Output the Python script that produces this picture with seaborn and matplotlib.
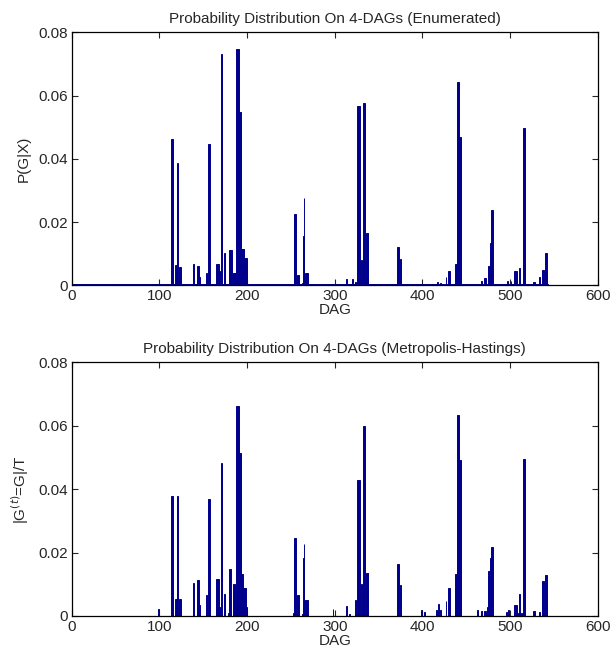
import numpy as np
import pandas as pd
import seaborn as sns
import matplotlib.pyplot as plt

# DAG index (1..543) -> probability.
# Groups of adjacent indices share a value (Markov-equivalent DAGs).
n_dags = 543

# tiny mass that every DAG gets in the enumerated distribution
enum_floor = 0.0003

enum_dag = [114, 115, 118, 119, 120, 121, 123, 124, 139, 144, 145, 146, 154,
            156, 157, 165, 166, 167, 169, 171, 174, 180, 181, 182,
            184, 185, 186, 187, 188, 189, 190, 191, 192, 193, 194, 195, 196,
            197, 198, 199, 200,
            254, 255, 258, 259, 263, 264, 265, 267, 268, 269, 313, 320, 324,
            326, 327, 328, 331, 332, 333, 334, 336, 337, 338, 372, 373, 375,
            417, 421, 427, 430, 431, 438, 439, 440, 441, 442, 443, 463,
            467, 468, 471, 472, 475, 476, 477, 478, 479, 480, 497, 501,
            505, 506, 507, 511, 515, 516, 527, 528, 533, 534, 537, 538,
            540, 541, 542]
enum_p = [0.0463, 0.0463, 0.0064, 0.0064, 0.0064, 0.0387, 0.0057, 0.0057,
          0.0067, 0.0060, 0.0060, 0.0025, 0.0038,
          0.0448, 0.0448, 0.0067, 0.0067, 0.0067, 0.0046, 0.0730, 0.0102,
          0.0110, 0.0110, 0.0110,
          0.0038, 0.0038, 0.0038, 0.0038, 0.0747, 0.0747, 0.0747, 0.0548,
          0.0548, 0.0548, 0.0116, 0.0116, 0.0116,
          0.0085, 0.0085, 0.0085, 0.0030,
          0.0225, 0.0225, 0.0033, 0.0033, 0.0008, 0.0156, 0.0275, 0.0040,
          0.0040, 0.0040, 0.0019, 0.0019, 0.0010,
          0.0566, 0.0566, 0.0566, 0.0080, 0.0010, 0.0577, 0.0577, 0.0164,
          0.0164, 0.0164, 0.0121, 0.0121, 0.0083,
          0.0010, 0.0008, 0.0025, 0.0045, 0.0045, 0.0067, 0.0067, 0.0644,
          0.0644, 0.0470, 0.0470, 0.0005,
          0.0015, 0.0015, 0.0023, 0.0023, 0.0061, 0.0061, 0.0061, 0.0133,
          0.0237, 0.0237, 0.0015, 0.0015,
          0.0045, 0.0045, 0.0045, 0.0054, 0.0498, 0.0498, 0.0010, 0.0010,
          0.0025, 0.0025, 0.0048, 0.0048,
          0.0101, 0.0101, 0.0101]

mh_dag = [99, 114, 115, 118, 119, 120, 121, 123, 124, 139, 143, 144, 145,
          146, 154, 156, 157, 165, 166, 167, 168, 169, 171, 174, 179, 180,
          181, 184, 185, 186, 187, 188, 189, 190, 191, 192, 193, 194, 195,
          196, 197, 198, 199,
          253, 254, 255, 258, 259, 263, 264, 265, 267, 268, 269, 298, 313,
          317, 324, 326, 327, 328, 331, 332, 333, 334, 336, 337, 338, 372,
          373, 375, 399, 402, 403,
          416, 418, 421, 427, 430, 431, 438, 439, 440, 441, 442, 443, 463,
          467, 468, 471, 472, 474, 475, 476, 477, 478, 479, 480, 496, 498,
          505, 506, 507, 510, 511, 513, 515, 516, 527, 528, 533, 534, 537,
          538, 540, 541, 542]
mh_p = [0.0021, 0.0377, 0.0377, 0.0055, 0.0055, 0.0055, 0.0377, 0.0055,
        0.0055, 0.0104, 0.0055, 0.0112, 0.0112,
        0.0034, 0.0065, 0.0369, 0.0369, 0.0115, 0.0115, 0.0115, 0.0020,
        0.0028, 0.0483, 0.0069, 0.0010, 0.0149,
        0.0149, 0.0005, 0.0102, 0.0102, 0.0052, 0.0662, 0.0662, 0.0662,
        0.0513, 0.0513, 0.0513, 0.0133, 0.0133,
        0.0089, 0.0089, 0.0089, 0.0027,
        0.0008, 0.0247, 0.0247, 0.0065, 0.0065, 0.0005, 0.0182, 0.0228,
        0.0050, 0.0050, 0.0050, 0.0021, 0.0031,
        0.0005, 0.0050, 0.0429, 0.0429, 0.0429, 0.0102, 0.0010, 0.0600,
        0.0600, 0.0136, 0.0136, 0.0136, 0.0164,
        0.0164, 0.0099, 0.0020, 0.0011, 0.0011,
        0.0020, 0.0038, 0.0019, 0.0047, 0.0089, 0.0089, 0.0133, 0.0133,
        0.0635, 0.0635, 0.0492, 0.0492, 0.0020,
        0.0016, 0.0016, 0.0016, 0.0016, 0.0027, 0.0143, 0.0143, 0.0143,
        0.0183, 0.0217, 0.0217, 0.0013, 0.0019,
        0.0034, 0.0034, 0.0034, 0.0008, 0.0069, 0.0008, 0.0494, 0.0494,
        0.0016, 0.0016, 0.0013, 0.0013, 0.0110,
        0.0110, 0.0129, 0.0129, 0.0129]

titles = ["Probability Distribution On 4-DAGs (Enumerated)",
          "Probability Distribution On 4-DAGs (Metropolis-Hastings)"]
ylabels = ["P(G|X)", r"|G$^{(t)}$=G|/T"]
xticks = [0, 100, 200, 300, 400, 500, 600]
yticks = [0, 0.02, 0.04, 0.06, 0.08]
yticklabels = ["0", "0.02", "0.04", "0.06", "0.08"]

bar_color = "#00008C"


def full_series(dags, probs, floor=0.0):
    p = np.full(n_dags, floor)
    p[np.array(dags) - 1] = probs
    return pd.DataFrame({"dag": np.arange(1, n_dags + 1), "p": p})


sns.set_style("ticks")
plt.rcParams["font.family"] = ["Liberation Sans", "DejaVu Sans"]
plt.rcParams["font.size"] = 11
plt.rcParams["axes.linewidth"] = 0.9

fig = plt.figure(figsize=(6.11, 6.59), dpi=100)
ax1 = fig.add_axes([0.1173, 0.5671, 0.861, 0.3839])
ax2 = fig.add_axes([0.1173, 0.0653, 0.861, 0.3850])

data = [full_series(enum_dag, enum_p, enum_floor), full_series(mh_dag, mh_p)]

for ax, df, title, ylab in zip([ax1, ax2], data, titles, ylabels):
    sns.barplot(data=df, x="dag", y="p", native_scale=True, width=1.0,
                color=bar_color, saturation=1, errorbar=None,
                edgecolor=bar_color, linewidth=0.7, ax=ax)
    ax.set_xlim(0, 600)
    ax.set_ylim(0, 0.08)
    ax.set_xticks(xticks)
    ax.set_xticklabels([str(t) for t in xticks])
    ax.set_yticks(yticks)
    ax.set_yticklabels(yticklabels)
    ax.tick_params(direction="in", top=True, right=True, length=4,
                   width=0.8, labelsize=11, pad=3)
    for s in ax.spines.values():
        s.set_visible(True)
        s.set_color("black")
    ax.set_title(title, fontsize=11, pad=7)
    ax.set_xlabel("DAG", fontsize=11, labelpad=0)
    ax.set_ylabel(ylab, fontsize=11, labelpad=5)

fig.savefig("out.png", dpi=100)
